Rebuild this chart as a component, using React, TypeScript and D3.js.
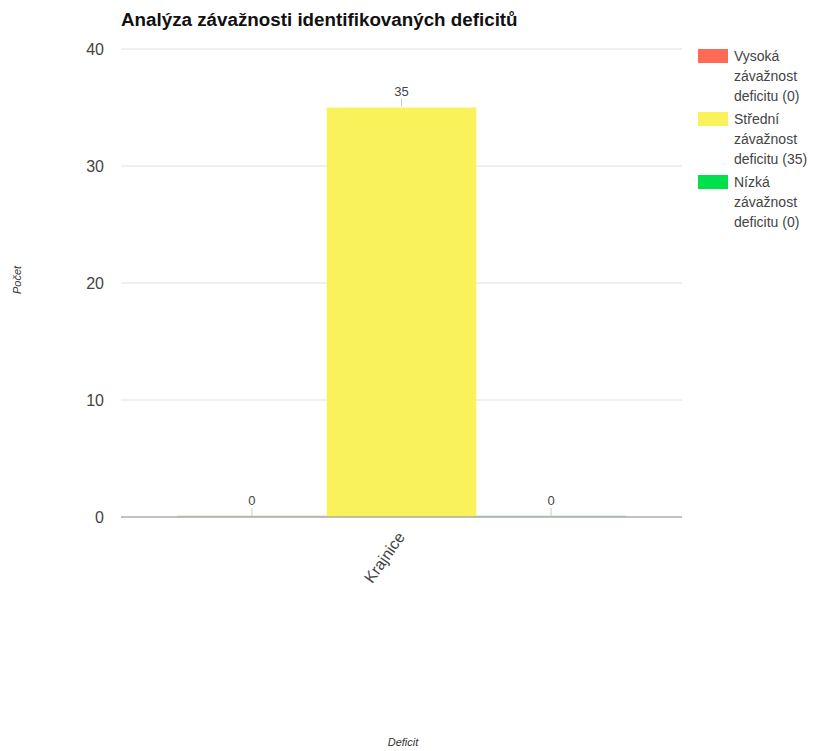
import React from "react";
import * as d3 from "d3";

const categories = ["Krajnice"];
const seriesNames = ["Vysoká závažnost deficitu (0)", "Střední závažnost deficitu (35)", "Nízká závažnost deficitu (0)"];
const seriesColors = ["#ff6a56", "#faf25a", "#00e04a"];
const seriesValues = [[0], [35], [0]];
const yTicks = [0, 10, 20, 30, 40];
const legendLines = [
  ["Vysoká", "závažnost", "deficitu (0)"],
  ["Střední", "závažnost", "deficitu (35)"],
  ["Nízká", "závažnost", "deficitu (0)"],
];

export default function App() {
  const W = 814, H = 751;
  const left = 121, right = 682, top = 49, bottom = 517;
  const x0 = d3.scaleBand().domain(categories).range([left, right]).paddingInner(0.2).paddingOuter(0.1);
  const x1 = d3.scaleBand().domain(seriesNames.map((_, i) => String(i))).range([0, x0.bandwidth()]);
  const y = d3.scaleLinear().domain([0, 40]).range([bottom, top]);
  const font = "'Liberation Sans', Arial, sans-serif";

  return (
    <svg width={W} height={H} style={{ position: "absolute", left: 0, top: 0, background: "#fff" }} fontFamily={font}>
      <text x={121} y={26} fontWeight="bold" fontSize={18.8} fill="#111">
        Analýza závažnosti identifikovaných deficitů
      </text>
      {yTicks.map((t) => (
        <g key={t}>
          {t !== 0 && <line x1={left} x2={right} y1={y(t)} y2={y(t)} stroke="#e0e0e0" strokeWidth={1} />}
          <text x={104} y={y(t)} dy="0.35em" textAnchor="end" fontSize={16} fill="#444">{t}</text>
        </g>
      ))}
      {categories.map((c, ci) => (
        <g key={c}>
          {seriesNames.map((s, si) => {
            const v = seriesValues[si][ci];
            const bx = (x0(c) as number) + (x1(String(si)) as number);
            const bw = x1.bandwidth();
            const by = y(v);
            const cx = bx + bw / 2;
            return (
              <g key={s}>
                {v > 0 ? (
                  <rect x={bx} y={by} width={bw} height={bottom - by} fill={seriesColors[si]} />
                ) : (
                  <rect x={bx} y={bottom - 1.5} width={bw} height={1.5} fill={seriesColors[si]} opacity={0.3} />
                )}
                <line x1={cx} x2={cx} y1={by - 9} y2={by - 1} stroke="#ccc" strokeWidth={1} />
                <text x={cx} y={by - 12} textAnchor="middle" fontSize={13} fill="#444">{v}</text>
              </g>
            );
          })}
          <text
            transform={`translate(${(x0(c) as number) + x0.bandwidth() / 2 + 4},${bottom + 20}) rotate(-55)`}
            textAnchor="end"
            fontSize={16}
            fill="#444"
          >
            {c}
          </text>
        </g>
      ))}
      <line x1={left} x2={right} y1={bottom} y2={bottom} stroke="#999" strokeWidth={1.5} opacity={0.8} />
      <text transform="translate(21,280) rotate(-90)" textAnchor="middle" fontSize={11} fontStyle="italic" fill="#333">Počet</text>
      <text x={403} y={746} textAnchor="middle" fontSize={11} fontStyle="italic" fill="#333">Deficit</text>
      {seriesNames.map((s, i) => (
        <g key={s} transform={`translate(698,${49 + i * 63})`}>
          <rect x={0} y={0} width={30} height={14} fill={seriesColors[i]} />
          {legendLines[i].map((l, j) => (
            <text key={j} x={36} y={12 + j * 20} fontSize={14} fill="#444">{l}</text>
          ))}
        </g>
      ))}
    </svg>
  );
}
